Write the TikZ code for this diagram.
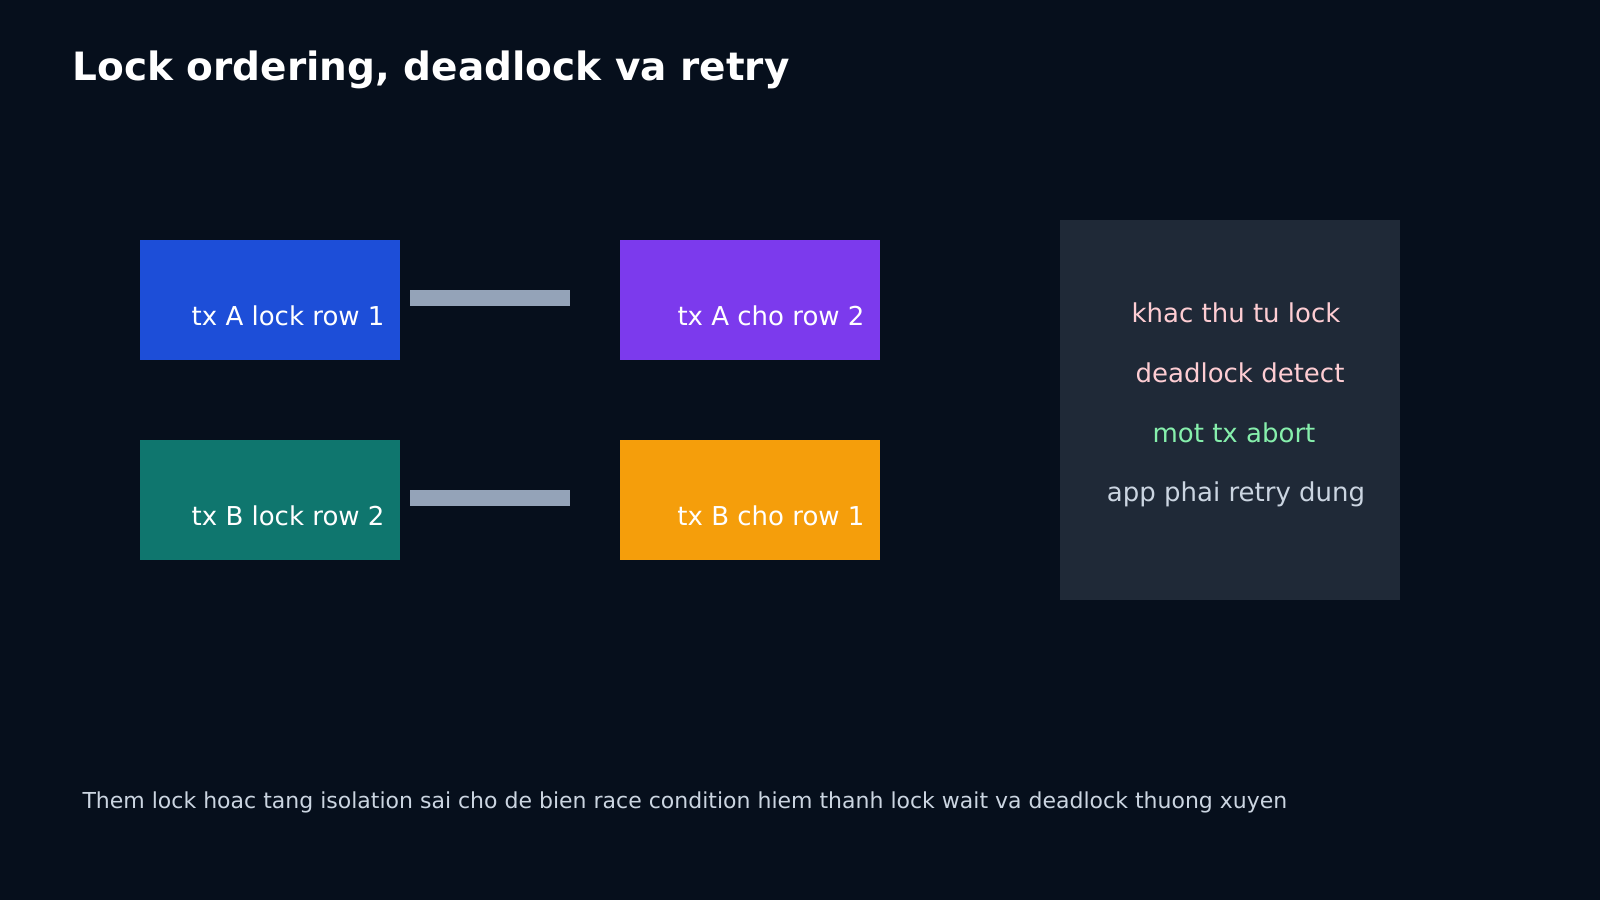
\documentclass[tikz,border=0pt]{standalone}
\usepackage{fontspec}
\setmainfont{DejaVu Sans}
\definecolor{bg}{HTML}{060F1C}
\definecolor{cblue}{HTML}{1D4ED8}
\definecolor{cpurp}{HTML}{7C3AED}
\definecolor{cteal}{HTML}{0F766E}
\definecolor{corange}{HTML}{F59E0B}
\definecolor{cbar}{HTML}{94A3B8}
\definecolor{cpanel}{HTML}{1F2937}
\definecolor{cpink}{HTML}{FECDD3}
\definecolor{cgreen}{HTML}{86EFAC}
\definecolor{cgray}{HTML}{CBD5E1}
\begin{document}
\begin{tikzpicture}[x=1pt,y=-1pt,
  box/.style={minimum width=260pt,minimum height=120pt,inner sep=0pt,anchor=north west},
  boxtext/.style={anchor=base east,text=white,font=\fontsize{26}{30}\selectfont},
  bar/.style={fill=cbar},
  ptext/.style={anchor=base,font=\fontsize{26}{30}\selectfont}]
\fill[bg] (0,0) rectangle (1600,900);
\useasboundingbox (0,0) rectangle (1600,900);
\node[anchor=base west,text=white,font=\bfseries\fontsize{39}{44}\selectfont] (title) at (69,80) {Lock ordering, deadlock va retry};
\node[box,fill=cblue] (a1) at (140,240) {};
\node[box,fill=cpurp] (a2) at (620,240) {};
\node[box,fill=cteal] (b1) at (140,440) {};
\node[box,fill=corange] (b2) at (620,440) {};
\node[boxtext] (ta1) at (388,325) {tx A lock row 1};
\node[boxtext] (ta2) at (868,325) {tx A cho row 2};
\node[boxtext] (tb1) at (388,525) {tx B lock row 2};
\node[boxtext] (tb2) at (868,525) {tx B cho row 1};
\fill[bar] (410,290) rectangle (570,306);
\fill[bar] (410,490) rectangle (570,506);
\node[box,fill=cpanel,minimum width=340pt,minimum height=380pt] (panel) at (1060,220) {};
\node[ptext,text=cpink] (p1) at (1236,322) {khac thu tu lock};
\node[ptext,text=cpink] (p2) at (1240,382) {deadlock detect};
\node[ptext,text=cgreen] (p3) at (1234,442) {mot tx abort};
\node[ptext,text=cgray] (p4) at (1236,501) {app phai retry dung};
\node[anchor=base west,text=cgray,font=\fontsize{22}{26}\selectfont] (foot) at (79,808) {Them lock hoac tang isolation sai cho de bien race condition hiem thanh lock wait va deadlock thuong xuyen};
\end{tikzpicture}
\end{document}
